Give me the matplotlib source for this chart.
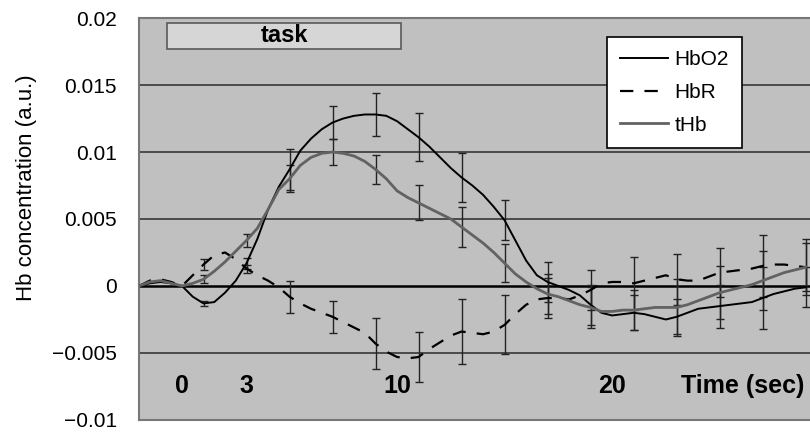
import numpy as np
import matplotlib
matplotlib.use("Agg")
import matplotlib.pyplot as plt
from matplotlib.patches import Rectangle

plt.rcParams["font.family"] = ["Liberation Sans", "DejaVu Sans"]

# time axis (sec), 0.5 s steps
t = np.arange(-2, 29.01, 0.5)

hbo2 = [0.0000, 0.0002, 0.0003, 0.0002, 0.0000, -0.0008, -0.0013, -0.0012, -0.0005, 0.0004,
        0.0017, 0.0035, 0.0057, 0.0074, 0.0087, 0.0101, 0.0110, 0.0117, 0.0122, 0.0125,
        0.0127, 0.0128, 0.0128, 0.0127, 0.0123, 0.0117, 0.0111, 0.0104, 0.0096, 0.0088,
        0.0081, 0.0075, 0.0068, 0.0059, 0.0049, 0.0034, 0.0019, 0.0008, 0.0003, 0.0000,
        -0.0003, -0.0007, -0.0014, -0.0020, -0.0022, -0.0021, -0.0020, -0.0021, -0.0023, -0.0025,
        -0.0023, -0.0020, -0.0017, -0.0016, -0.0015, -0.0014, -0.0013, -0.0012, -0.0009, -0.0006,
        -0.0004, -0.0002, -0.0001]

thb = [0.0000, 0.0003, 0.0004, 0.0002, 0.0000, 0.0002, 0.0005, 0.0011, 0.0018, 0.0026,
       0.0034, 0.0043, 0.0057, 0.0072, 0.0080, 0.0090, 0.0096, 0.0099, 0.0100, 0.0099,
       0.0097, 0.0093, 0.0087, 0.0080, 0.0071, 0.0066, 0.0062, 0.0058, 0.0054, 0.0050,
       0.0044, 0.0038, 0.0032, 0.0025, 0.0017, 0.0009, 0.0003, -0.0002, -0.0006, -0.0008,
       -0.0011, -0.0014, -0.0016, -0.0019, -0.0019, -0.0018, -0.0018, -0.0017, -0.0016, -0.0016,
       -0.0016, -0.0014, -0.0011, -0.0008, -0.0005, -0.0003, -0.0001, 0.0001, 0.0004, 0.0007,
       0.0010, 0.0012, 0.0014]

hbr = [0.0000, 0.0004, 0.0005, 0.0003, 0.0000, 0.0008, 0.0016, 0.0023, 0.0025, 0.0020,
       0.0013, 0.0008, 0.0004, -0.0001, -0.0008, -0.0013, -0.0017, -0.0020, -0.0023, -0.0027,
       -0.0031, -0.0035, -0.0043, -0.0049, -0.0053, -0.0054, -0.0053, -0.0047, -0.0042, -0.0037,
       -0.0034, -0.0035, -0.0036, -0.0034, -0.0029, -0.0021, -0.0014, -0.0010, -0.0009, -0.0009,
       -0.0010, -0.0007, -0.0003, 0.0002, 0.0003, 0.0003, 0.0002, 0.0004, 0.0006, 0.0008,
       0.0005, 0.0004, 0.0004, 0.0007, 0.0010, 0.0011, 0.0012, 0.0013, 0.0015, 0.0016,
       0.0016, 0.0015, 0.0014]

# error bars every 2 s
err_t = [1, 3, 5, 7, 9, 11, 13, 15, 17, 19, 21, 23, 25, 27, 29]
hbo2_err = [0.0002, 0.0004, 0.0015, 0.0012, 0.0016, 0.0018, 0.0018, 0.0015, 0.0015, 0.0015,
            0.0013, 0.0013, 0.0016, 0.0023, 0.0015]
thb_err = [0.0003, 0.0005, 0.0010, 0.0010, 0.0011, 0.0013, 0.0015, 0.0014, 0.0015, 0.0015,
           0.0015, 0.0021, 0.0020, 0.0022, 0.0021]
hbr_err = [0.0004, 0.0003, 0.0012, 0.0012, 0.0019, 0.0019, 0.0024, 0.0022, 0.0015, 0.0015,
           0.0020, 0.0019, 0.0018, 0.0023, 0.0018]

time_marks = [0, 3, 10, 20]
task_start, task_end = -0.7, 10.2

fig = plt.figure(figsize=(8.1, 4.34), dpi=100)
ax = fig.add_axes([0.1716, 0.0323, 0.8284, 0.9262])
ax.set_facecolor("#c0c0c0")

ax.set_xlim(-2, 29.2)
ax.set_ylim(-0.01, 0.02)

for g in [0.015, 0.01, 0.005, -0.005]:
    ax.axhline(g, color="#4a4a4a", lw=1.4, zorder=1)
ax.axhline(0, color="black", lw=1.8, zorder=1)

idx = [list(t).index(v) for v in err_t]
ebkw = dict(fmt="none", ecolor="#222222", elinewidth=1.0, capsize=2.8, capthick=1.0, zorder=2)
ax.errorbar(err_t, [hbo2[i] for i in idx], yerr=hbo2_err, **ebkw)
ax.errorbar(err_t, [thb[i] for i in idx], yerr=thb_err, **ebkw)
ax.errorbar(err_t, [hbr[i] for i in idx], yerr=hbr_err, **ebkw)

ax.plot(t, hbo2, color="black", lw=1.4, label="HbO2", zorder=3)
ax.plot(t, hbr, color="black", lw=1.6, dashes=(6, 5), label="HbR", zorder=3)
ax.plot(t, thb, color="#626262", lw=2.0, label="tHb", zorder=3)

# task bar
ax.add_patch(Rectangle((task_start, 0.0177), task_end - task_start, 0.0019,
                       facecolor="#d6d6d6", edgecolor="#5a5a5a", lw=1.2, zorder=4))
ax.text((task_start + task_end) / 2, 0.0187, "task", ha="center", va="center",
        fontsize=17, fontweight="bold", zorder=5)

for m in time_marks:
    ax.text(m, -0.0075, str(m), ha="center", va="center", fontsize=18, fontweight="bold")
ax.text(23.2, -0.0075, "Time (sec)", ha="left", va="center", fontsize=18, fontweight="bold")

ax.set_yticks([-0.01, -0.005, 0, 0.005, 0.01, 0.015, 0.02])
ax.set_yticklabels(["\u22120.01", "\u22120.005", "0", "0.005", "0.01", "0.015", "0.02"])
ax.set_xticks([])
ax.tick_params(axis="y", length=0, pad=16, labelsize=15)
ax.set_ylabel("Hb concentration (a.u.)", fontsize=16)
ax.yaxis.set_label_coords(-0.152, 0.577)

for s in ["left", "top", "bottom"]:
    ax.spines[s].set_color("#777777")
    ax.spines[s].set_linewidth(1.5)
ax.spines["right"].set_visible(False)

leg = ax.legend(loc="upper left", bbox_to_anchor=(0.697, 0.953), borderaxespad=0,
                fontsize=15, handlelength=2.3, labelspacing=0.65, fancybox=False,
                framealpha=1, edgecolor="black", borderpad=0.65, handletextpad=0.3)
leg.get_frame().set_linewidth(1.2)
leg.set_zorder(6)

fig.savefig("out.png", dpi=100)
